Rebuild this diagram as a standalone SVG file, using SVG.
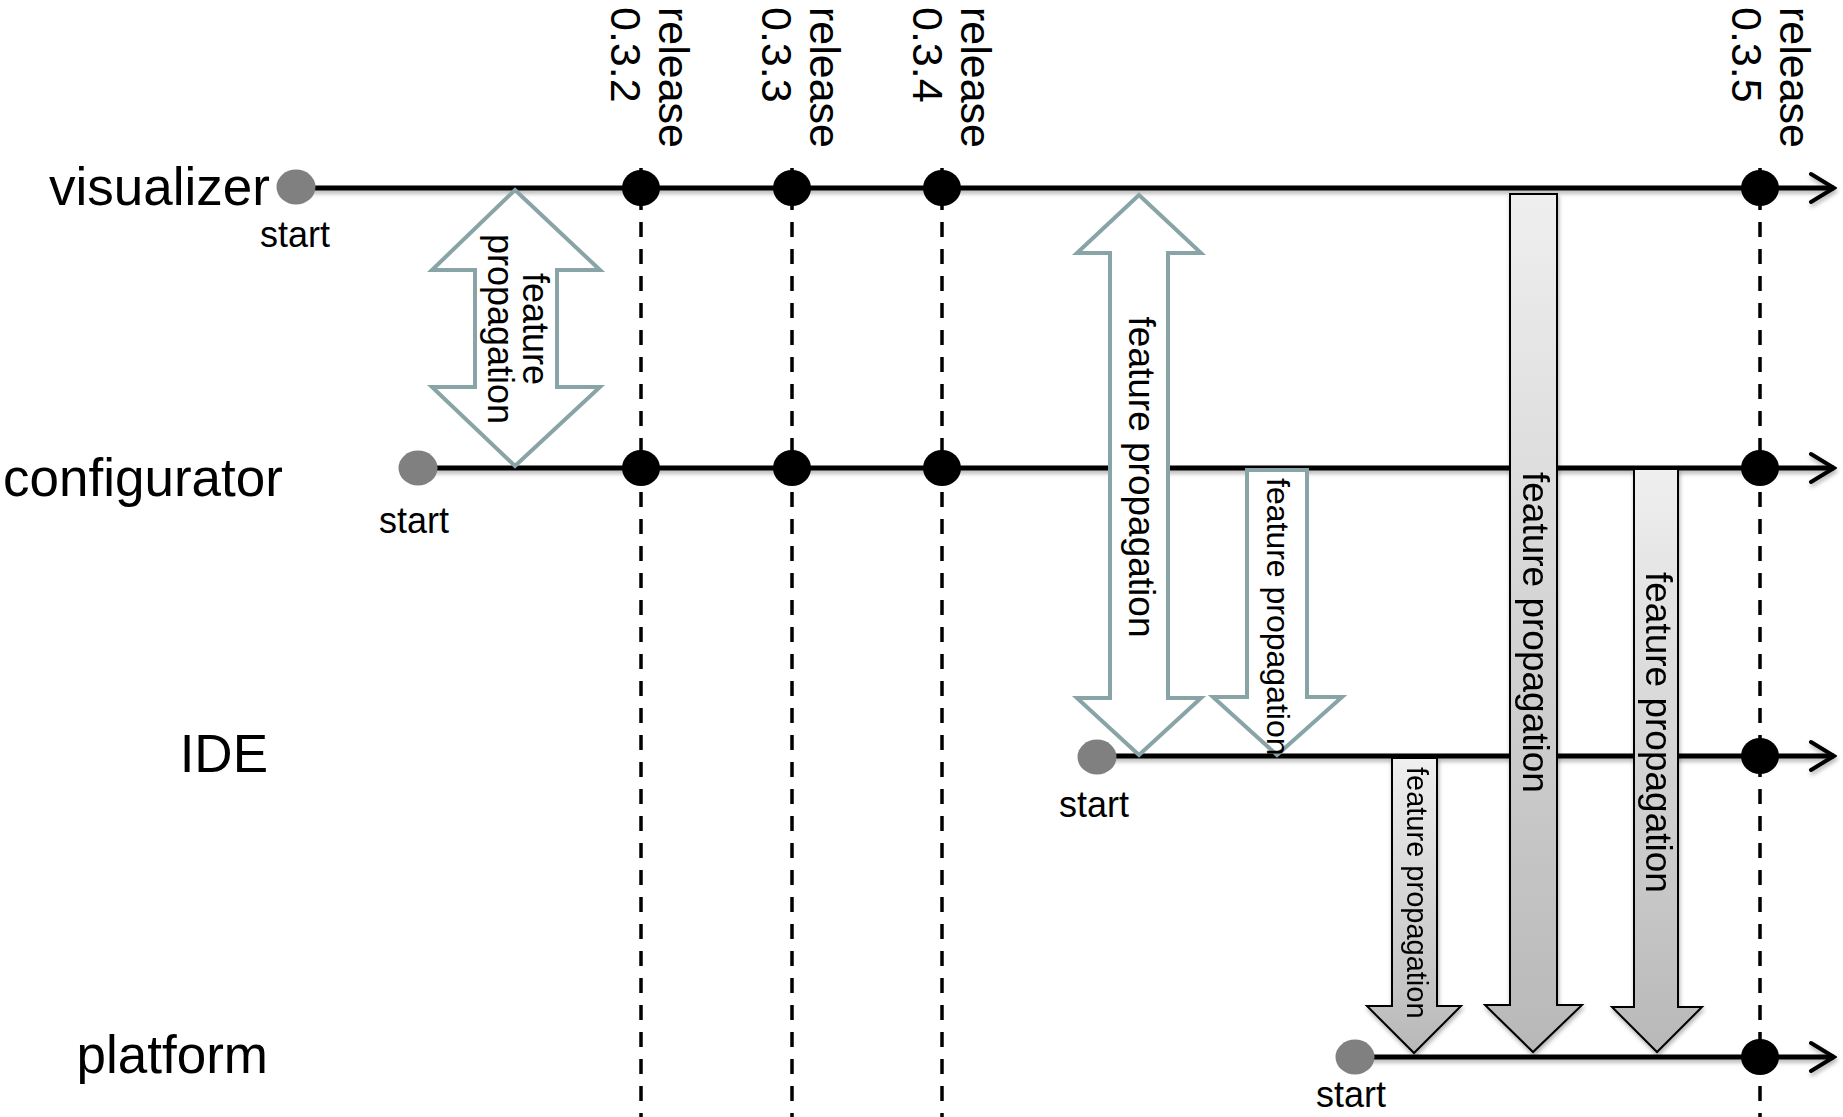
<svg xmlns="http://www.w3.org/2000/svg" width="1843" height="1117" viewBox="0 0 1843 1117">
<style>
text{font-family:"Liberation Sans",Arial,Helvetica,sans-serif;fill:#000}
.lane{font-size:53px}
.start{font-size:36px;text-anchor:middle}
.rel{font-size:43px}
.tl{stroke:#000;stroke-width:5;fill:none}
.dash{stroke:#000;stroke-width:3.5;stroke-dasharray:15 12;fill:none}
.dot{fill:#000}
.sdot{fill:#808080}
.out{fill:#fff;stroke:#89a4a7;stroke-width:4;stroke-linejoin:miter}
.grey{fill:url(#gg);stroke:#000;stroke-width:2}
</style>
<defs>
<marker id="chev" viewBox="0 0 30 34" refX="27" refY="17" markerWidth="30" markerHeight="34" markerUnits="userSpaceOnUse" orient="auto">
<path d="M4,3 L27,17 L4,31" fill="none" stroke="#000" stroke-width="4" stroke-linecap="round"/>
</marker>
<linearGradient id="gg" x1="0" y1="0" x2="0" y2="1">
<stop offset="0" stop-color="#efefef"/>
<stop offset="1" stop-color="#b8b8b8"/>
</linearGradient>
<filter id="sh" x="-5%" y="-50%" width="110%" height="300%">
<feDropShadow dx="1" dy="3" stdDeviation="2" flood-color="#000" flood-opacity="0.3"/>
</filter>
</defs>
<rect width="1843" height="1117" fill="#fff"/>

<g id="connectors">
<g id="release-lines">
<line class="dash" x1="641" y1="168" x2="641" y2="1117"/>
<line class="dash" x1="792" y1="168" x2="792" y2="1117"/>
<line class="dash" x1="942" y1="168" x2="942" y2="1117"/>
<line class="dash" x1="1760" y1="168" x2="1760" y2="1117"/>
</g>
<g id="timelines" filter="url(#sh)">
<line class="tl" x1="300" y1="188" x2="1834" y2="188" marker-end="url(#chev)"/>
<line class="tl" x1="420" y1="468" x2="1834" y2="468" marker-end="url(#chev)"/>
<line class="tl" x1="1100" y1="756" x2="1834" y2="756" marker-end="url(#chev)"/>
<line class="tl" x1="1356" y1="1057" x2="1834" y2="1057" marker-end="url(#chev)"/>
</g>
</g>

<g id="visualizer">
<text class="lane" x="270" y="205" text-anchor="end">visualizer</text>
<ellipse class="sdot" cx="296" cy="187" rx="19.5" ry="17.5"/>
<text class="start" x="295" y="247">start</text>
</g>
<g id="configurator">
<text class="lane" x="3" y="496">configurator</text>
<ellipse class="sdot" cx="418" cy="468" rx="19.5" ry="17.5"/>
<text class="start" x="414" y="533">start</text>
</g>
<g id="ide">
<text class="lane" x="268" y="772" text-anchor="end">IDE</text>
<ellipse class="sdot" cx="1097" cy="757" rx="19.5" ry="17.5"/>
<text class="start" x="1094" y="817">start</text>
</g>
<g id="platform">
<text class="lane" x="268" y="1073" text-anchor="end">platform</text>
<ellipse class="sdot" cx="1355" cy="1057" rx="19.5" ry="17.5"/>
<text class="start" x="1351" y="1107">start</text>
</g>

<g id="release-032">
<ellipse class="dot" cx="641" cy="188" rx="19" ry="18"/>
<ellipse class="dot" cx="641" cy="468" rx="19" ry="18"/>
<text class="rel" transform="translate(659,7) rotate(90)"><tspan x="0" y="0">release</tspan><tspan x="0" dy="48">0.3.2</tspan></text>
</g>
<g id="release-033">
<ellipse class="dot" cx="792" cy="188" rx="19" ry="18"/>
<ellipse class="dot" cx="792" cy="468" rx="19" ry="18"/>
<text class="rel" transform="translate(810,7) rotate(90)"><tspan x="0" y="0">release</tspan><tspan x="0" dy="48">0.3.3</tspan></text>
</g>
<g id="release-034">
<ellipse class="dot" cx="942" cy="188" rx="19" ry="18"/>
<ellipse class="dot" cx="942" cy="468" rx="19" ry="18"/>
<text class="rel" transform="translate(961,7) rotate(90)"><tspan x="0" y="0">release</tspan><tspan x="0" dy="48">0.3.4</tspan></text>
</g>
<g id="release-035">
<ellipse class="dot" cx="1760" cy="188" rx="19" ry="18"/>
<ellipse class="dot" cx="1760" cy="468" rx="19" ry="18"/>
<ellipse class="dot" cx="1760" cy="756" rx="19" ry="18"/>
<ellipse class="dot" cx="1760" cy="1057" rx="19" ry="18"/>
<text class="rel" transform="translate(1780,7) rotate(90)"><tspan x="0" y="0">release</tspan><tspan x="0" dy="48">0.3.5</tspan></text>
</g>

<g id="fp1">
<path class="out" d="M515,190 L600,270 L557,270 L557,387 L600,387 L515,466 L432,387 L475,387 L475,270 L432,270 Z"/>
<text transform="translate(523,329) rotate(90)" font-size="36" text-anchor="middle"><tspan x="0" y="0">feature</tspan><tspan x="0" dy="35">propagation</tspan></text>
</g>
<g id="fp2">
<path class="out" d="M1139,195 L1201,253 L1168,253 L1168,698 L1201,698 L1139,755 L1077,698 L1110,698 L1110,253 L1077,253 Z"/>
<text transform="translate(1129,477) rotate(90)" font-size="37" text-anchor="middle">feature propagation</text>
</g>
<g id="fp3">
<path class="out" d="M1247,470 L1307,470 L1307,697 L1342,697 L1277,755 L1213,697 L1247,697 Z"/>
<text transform="translate(1267,478) rotate(90)" font-size="32">feature propagation</text>
</g>
<g id="fp4" filter="url(#sh)">
<path class="grey" d="M1392,758 L1437,758 L1437,1006 L1461,1006 L1414,1053 L1367,1006 L1392,1006 Z"/>
<text transform="translate(1407,767) rotate(90)" font-size="29">feature propagation</text>
</g>
<g id="fp5" filter="url(#sh)">
<path class="grey" d="M1510,194 L1557,194 L1557,1005 L1582,1005 L1533,1052 L1485,1005 L1510,1005 Z"/>
<text transform="translate(1523,472) rotate(90)" font-size="37">feature propagation</text>
</g>
<g id="fp6" filter="url(#sh)">
<path class="grey" d="M1634,469 L1678,469 L1678,1007 L1702,1007 L1657,1052 L1612,1007 L1634,1007 Z"/>
<text transform="translate(1646,572) rotate(90)" font-size="37">feature propagation</text>
</g>
</svg>
